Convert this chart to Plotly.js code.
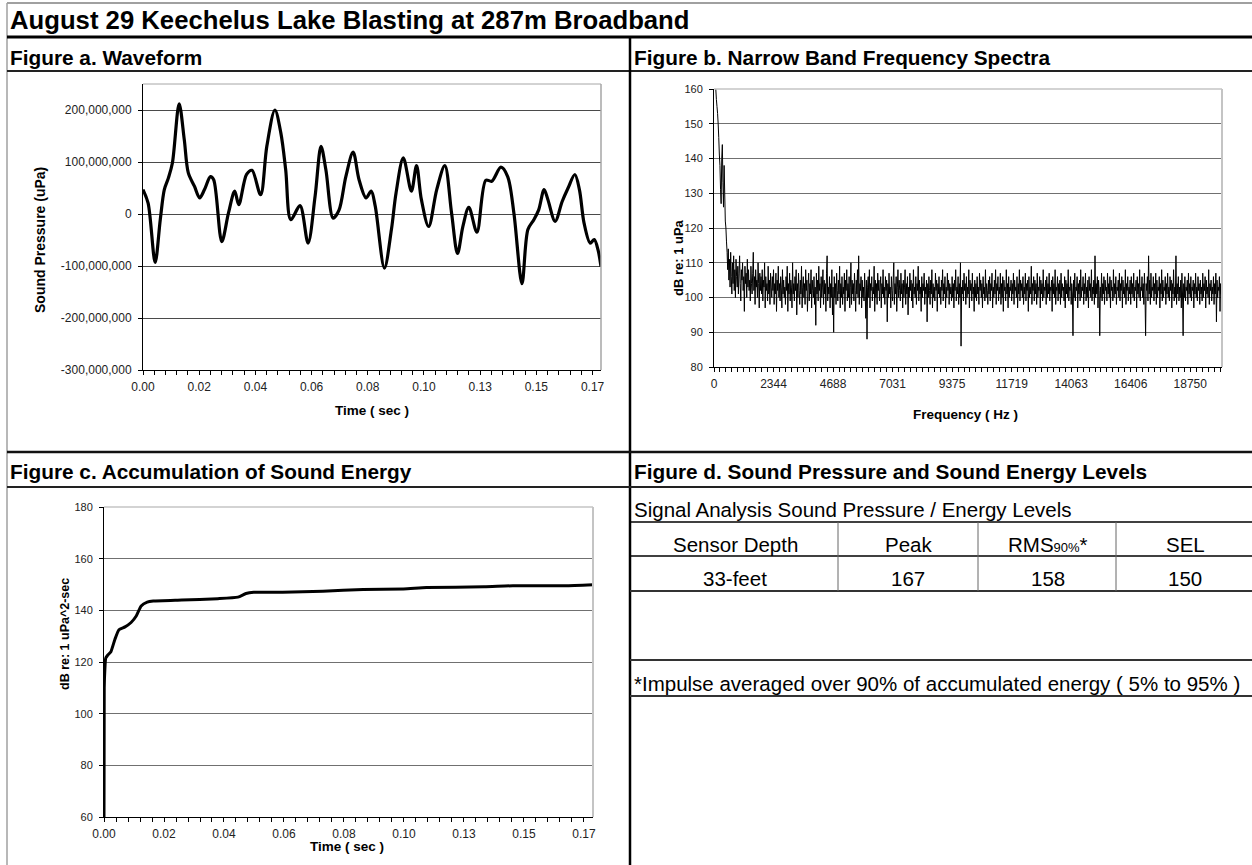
<!DOCTYPE html>
<html><head><meta charset="utf-8">
<script src="https://cdn.plot.ly/plotly-3.0.1.min.js"></script>
<style>html,body{margin:0;padding:0;background:#fff;overflow:hidden}#chart{width:1252px;height:865px}</style>
</head><body><div id="chart"></div>
<script>
// ---------------- DATA ----------------
const titleText = 'August 29 Keechelus Lake Blasting at 287m Broadband';
const panelTitles = ['Figure a. Waveform','Figure b. Narrow Band Frequency Spectra','Figure c. Accumulation of Sound Energy','Figure d. Sound Pressure and Sound Energy Levels'];

// Figure a: waveform (time s, pressure uPa)
const timeA = [0.0000,0.0019,0.0045,0.0064,0.0079,0.0094,0.0109,0.0134,0.0153,0.0168,0.0191,0.0210,0.0228,0.0250,0.0262,0.0292,0.0317,0.0340,0.0355,0.0384,0.0404,0.0436,0.0459,0.0489,0.0511,0.0529,0.0548,0.0582,0.0612,0.0638,0.0660,0.0678,0.0705,0.0727,0.0752,0.0779,0.0801,0.0827,0.0846,0.0861,0.0895,0.0921,0.0938,0.0965,0.0995,0.1014,0.1032,0.1059,0.1089,0.1119,0.1144,0.1166,0.1186,0.1208,0.1238,0.1271,0.1293,0.1327,0.1352,0.1375,0.1405,0.1427,0.1449,0.1467,0.1487,0.1501,0.1528,0.1554,0.1576,0.1601,0.1618,0.1635,0.1658,0.1673,0.1687,0.1698];
const pressureA = [47e6,21e6,-93e6,-11e6,47e6,69e6,98e6,212e6,143e6,79e6,53e6,31e6,47e6,72e6,66e6,-53e6,2e6,44e6,18e6,76e6,84e6,37e6,130e6,200e6,156e6,85e6,-11e6,16e6,-56e6,34e6,130e6,85e6,-8e6,8e6,72e6,119e6,66e6,31e6,44e6,15e6,-104e6,-30e6,40e6,108e6,44e6,93e6,28e6,-24e6,47e6,93e6,2e6,-76e6,-24e6,13e6,-35e6,65e6,63e6,90e6,72e6,2e6,-134e6,-30e6,-11e6,8e6,47e6,28e6,-14e6,24e6,50e6,76e6,47e6,-17e6,-56e6,-49e6,-69e6,-101e6];
const pressureTickVals = [-3e8,-2e8,-1e8,0,1e8,2e8];
const pressureTickText = ['-300,000,000','-200,000,000','-100,000,000','0','100,000,000','200,000,000'];
const timeTickLabels = ['0.00','0.02','0.04','0.06','0.08','0.10','0.13','0.15','0.17'];

// Figure b: narrow band spectrum (dB re 1 uPa), one value per 23.4375 Hz bin
const specBinHz = 23.4375;
const specDb = [
165,164,162,160,157,155,153,150,146,141,138,131,127,140,144,133,126,138,130,122,
120,116,113,108,114,105,111,103,113,106,101,110,104,112,102,108,100,111,106,103,
109,101,107,112,104,99,108,105,110,102,106,96,109,104,107,100,111,103,108,102,
105,99,109,104,101,107,113,102,106,98,108,103,105,100,110,104,97,107,102,106,
101,108,99,105,103,110,97,106,102,104,99,109,101,105,98,107,103,100,106,102,
108,98,104,101,107,96,105,102,109,100,104,99,106,103,97,108,101,105,100,103,
98,106,102,109,96,104,101,107,99,105,103,97,110,101,104,99,106,102,108,95,
104,100,107,102,98,105,101,109,97,103,106,100,104,98,108,102,105,96,103,107,
99,104,101,108,97,105,102,100,106,98,103,92,107,101,105,99,109,102,104,97,
106,100,103,108,98,105,101,104,96,107,112,99,103,101,106,97,104,100,108,95,
103,90,106,100,104,98,107,102,99,105,101,109,97,104,100,106,98,103,101,107,
96,105,102,108,99,104,100,106,97,103,110,98,105,101,104,99,107,102,96,105,
101,108,100,112,98,104,102,106,97,105,100,103,99,107,101,94,105,88,103,106,
100,108,97,104,102,106,99,103,101,109,96,105,100,104,98,107,102,105,99,103,
106,97,104,101,108,100,103,98,106,102,105,93,104,100,107,101,103,97,106,102,
99,105,110,98,104,101,106,96,103,108,100,105,102,99,107,101,104,97,105,100,
103,108,98,104,101,106,95,103,100,107,102,105,99,104,97,108,101,103,100,106,
98,104,102,109,99,105,101,103,96,106,100,104,102,107,98,103,101,105,93,104,
100,106,102,98,105,101,108,97,104,100,103,99,107,102,105,96,104,101,106,100,
103,98,105,102,108,99,104,101,106,97,103,100,107,102,105,98,104,101,103,99,
106,100,104,97,105,102,108,99,103,101,106,98,104,100,110,86,103,101,105,99,
107,102,104,98,106,100,103,101,108,97,105,102,104,99,107,101,103,96,105,100,
104,99,106,101,103,98,107,102,105,100,104,97,106,101,103,99,108,100,104,102,
98,105,101,106,99,104,102,107,97,103,100,105,101,108,98,104,102,106,99,103,
101,107,98,104,100,106,96,105,102,103,99,108,101,104,97,106,100,103,102,105,
99,104,101,107,98,105,102,103,100,106,97,104,101,108,99,105,102,104,100,106,
98,103,101,107,99,104,102,105,96,106,100,103,101,109,98,104,102,106,99,105,
101,104,98,107,100,103,102,106,97,105,101,104,99,108,100,103,102,105,98,106,
100,104,101,107,99,103,102,105,96,106,101,104,100,108,98,103,102,106,99,104,
101,105,98,107,100,104,102,103,99,106,97,105,101,104,100,108,99,103,102,106,
98,104,101,89,105,100,107,99,103,102,106,97,104,101,105,99,108,100,103,102,
106,98,104,101,107,99,103,100,105,97,106,102,104,100,108,99,103,101,105,98,
112,100,104,101,106,97,105,102,89,103,100,107,99,104,101,106,98,105,102,103,
99,107,101,104,100,106,97,105,102,103,99,108,100,104,101,106,98,103,102,105,
100,107,99,104,102,106,97,105,101,103,100,108,98,104,102,106,99,103,101,105,
98,106,101,104,100,107,99,103,102,105,97,106,101,104,100,108,99,103,102,106,
100,104,98,107,101,89,104,102,106,99,112,101,105,98,107,100,103,102,106,99,
104,101,107,98,105,100,103,102,106,97,104,101,108,99,105,100,103,102,106,98,
104,101,107,100,103,99,106,102,105,97,104,101,108,99,103,100,112,98,104,101,
106,99,103,100,105,97,107,101,89,104,100,106,99,103,102,105,98,107,101,104,
100,106,99,103,102,105,97,104,101,107,100,103,99,106,102,104,98,105,101,103,
99,107,100,104,102,106,97,105,101,103,100,108,98,104,102,105,99,103,101,106,
98,104,101,107,93,105,100,103,102,106,96,104,101,105];
const freqTickLabels = ['0','2344','4688','7031','9375','11719','14063','16406','18750'];

// Figure c: accumulated sound energy (time s, dB re 1 uPa^2-sec)
const timeC = [0,0.00008,0.0003,0.0006,0.0012,0.0024,0.0038,0.0052,0.0073,0.0094,0.0112,0.0129,0.0150,0.0171,0.0270,0.0395,0.0465,0.0493,0.0520,0.0620,0.0760,0.0900,0.1040,0.1120,0.1320,0.1420,0.1600,0.1698];
const selC = [60,110,117,121.5,122.5,124,128.8,132.5,133.6,135.3,137.8,141.7,143.2,143.6,144,144.5,145.1,146.5,147,147,147.4,148.1,148.3,148.8,149.1,149.5,149.5,149.9];

// Figure d: table
const tableCaption = 'Signal Analysis Sound Pressure / Energy Levels';
const tableHeaders = ['Sensor Depth','Peak','RMS','SEL'];
const rmsSubscript = '90%';
const tableRow = ['33-feet','167','158','150'];
const footnote = '*Impulse averaged over 90% of accumulated energy ( 5% to 95% )';

// ---------------- LAYOUT HELPERS ----------------
const W = 1252, H = 865;
const px = x => x / W;
const py = y => 1 - y / H;
const FONT = '"Liberation Sans", Arial, sans-serif';
const samplesPerLabel = 1000, sampleRate = 48000;
const labelStepSec = samplesPerLabel / sampleRate;
const timeTickVals = timeTickLabels.map((_, i) => i * labelStepSec);
const freqLabelStep = 2343.75;
const freqTickVals = freqTickLabels.map((_, i) => i * freqLabelStep);
const freqs = specDb.map((_, i) => i * specBinHz);

const traces = [
  {type:'scatter', mode:'lines', x:timeA, y:pressureA, xaxis:'x', yaxis:'y',
   line:{color:'#000', width:3.2, shape:'spline', smoothing:0.9}, hoverinfo:'skip'},
  {type:'scatter', mode:'lines', x:freqs, y:specDb, xaxis:'x2', yaxis:'y2',
   line:{color:'#000', width:1, simplify:false}, hoverinfo:'skip'},
  {type:'scatter', mode:'lines', x:timeC, y:selC, xaxis:'x3', yaxis:'y3',
   line:{color:'#000', width:3, shape:'spline', smoothing:0.5}, hoverinfo:'skip'}
];

function xAxis(domain, range, tickvals, ticktext, minorDtick, anchor, fs){
  return {domain, range, anchor, tickmode:'array', tickvals, ticktext,
    ticks:'outside', ticklen:4, tickcolor:'#000', tickwidth:1,
    showline:true, linecolor:'#000', linewidth:1, showgrid:false, zeroline:false,
    tickfont:{family:FONT, size:fs, color:'#222'}, ticklabelstandoff:2,
    minor:{dtick:minorDtick, tick0:0, ticks:'outside', ticklen:4, tickcolor:'#000', showgrid:false},
    fixedrange:true};
}
function yAxis(domain, range, extra, anchor, fs, gridcolor){
  return Object.assign({domain, range, anchor,
    ticks:'outside', ticklen:4, tickcolor:'#000', tickwidth:1,
    showline:true, linecolor:'#000', linewidth:1,
    showgrid:true, gridcolor, gridwidth:1, zeroline:false,
    tickfont:{family:FONT, size:fs, color:'#222'}, ticklabelstandoff:4, fixedrange:true}, extra);
}

const shapes = [];
function hline(y, x0, x1, color, width){ shapes.push({type:'line', xref:'paper', yref:'paper', x0:px(x0), x1:px(x1), y0:py(y), y1:py(y), line:{color, width}}); }
function vline(x, y0, y1, color, width){ shapes.push({type:'line', xref:'paper', yref:'paper', x0:px(x), x1:px(x), y0:py(y0), y1:py(y1), line:{color, width}}); }

// outer frame
hline(3, 7, 1252, '#a0a0a0', 2);
vline(7, 3, 865, '#a0a0a0', 1.5);
// section dividers
hline(37, 7, 1252, '#000', 3);
hline(71, 7, 1252, '#222', 2);
vline(630, 37, 865, '#000', 2.5);
hline(452, 7, 1252, '#111', 2.5);
hline(487, 7, 1252, '#222', 2);
// table lines
hline(522, 630, 1252, '#000', 1.5);
hline(556, 630, 1252, '#000', 1.5);
hline(591, 630, 1252, '#333', 2);
hline(660, 630, 1252, '#333', 2);
hline(696, 630, 1252, '#333', 2);
[838, 978, 1116].forEach(x => vline(x, 522, 591, '#666', 1));
// plot area borders (top & right, gray)
hline(84, 143, 601, '#a6a6a6', 1); vline(601, 84, 370, '#a6a6a6', 1.5);
hline(89, 714, 1222, '#c4c4c4', 1.5); vline(1222, 89, 367, '#c4c4c4', 2);
hline(507, 104, 593, '#c4c4c4', 1.5); vline(593, 507, 817, '#c4c4c4', 2);

const annotations = [];
function txt(text, x, y, size, opts){
  annotations.push(Object.assign({text, xref:'paper', yref:'paper', x:px(x), y:py(y),
    xanchor:'left', yanchor:'middle', showarrow:false, borderpad:0,
    font:{family:FONT, size, color:'#000'}}, opts||{}));
}
txt('<b>'+titleText+'</b>', 9, 20, 25.7);
txt('<b>'+panelTitles[0]+'</b>', 9, 57, 20.8);
txt('<b>'+panelTitles[1]+'</b>', 633, 57, 20.8);
txt('<b>'+panelTitles[2]+'</b>', 9, 472, 20.8);
txt('<b>'+panelTitles[3]+'</b>', 633, 472, 20.8);
// axis titles
txt('<b>Sound Pressure (uPa)</b>', 40, 240, 14, {xanchor:'center', textangle:-90});
txt('<b>Time ( sec )</b>', 372, 411, 13.5, {xanchor:'center'});
txt('<b>dB re: 1 uPa</b>', 679, 258, 13, {xanchor:'center', textangle:-90});
txt('<b>Frequency ( Hz )</b>', 965, 414, 13.5, {xanchor:'center'});
txt('<b>dB re: 1 uPa^2-sec</b>', 65, 634, 12.5, {xanchor:'center', textangle:-90});
txt('<b>Time ( sec )</b>', 347, 846, 13.5, {xanchor:'center'});
// table
txt(tableCaption, 633, 509, 20.5);
const colCenters = [735, 908, 1048, 1185];
tableHeaders.forEach((h, i) => {
  const t = (h === 'RMS') ? h + '<span style="font-size:13px">' + rmsSubscript + '</span>*' : h;
  txt(t, colCenters[i], 544, 20.5, {xanchor:'center'});
});
tableRow.forEach((v, i) => txt(v, colCenters[i], 578, 20.5, {xanchor:'center'}));
txt(footnote, 633, 683, 20.5);

const layout = {
  width:W, height:H, margin:{l:0, r:0, t:0, b:0, pad:0},
  paper_bgcolor:'#fff', plot_bgcolor:'#fff', showlegend:false,
  font:{family:FONT, color:'#000'},
  xaxis: xAxis([px(143), px(601)], [0, 0.1698], timeTickVals, timeTickLabels, labelStepSec/5, 'y', 12),
  yaxis: yAxis([py(370), py(84)], [-3e8, 2.5e8], {tickmode:'array', tickvals:pressureTickVals, ticktext:pressureTickText}, 'x', 12, '#4a4a4a'),
  xaxis2: xAxis([px(714), px(1222)], [0, 20000], freqTickVals, freqTickLabels, freqLabelStep/10, 'y2', 12),
  yaxis2: yAxis([py(367), py(89)], [80, 160], {tickmode:'linear', tick0:80, dtick:10}, 'x2', 11, '#707070'),
  xaxis3: xAxis([px(104), px(593)], [0, 0.1698], timeTickVals, timeTickLabels, labelStepSec/5, 'y3', 12),
  yaxis3: yAxis([py(817), py(507)], [60, 180], {tickmode:'linear', tick0:60, dtick:20}, 'x3', 11, '#707070'),
  shapes, annotations
};

Plotly.newPlot('chart', traces, layout, {staticPlot:true, displayModeBar:false});
</script>
</body></html>
